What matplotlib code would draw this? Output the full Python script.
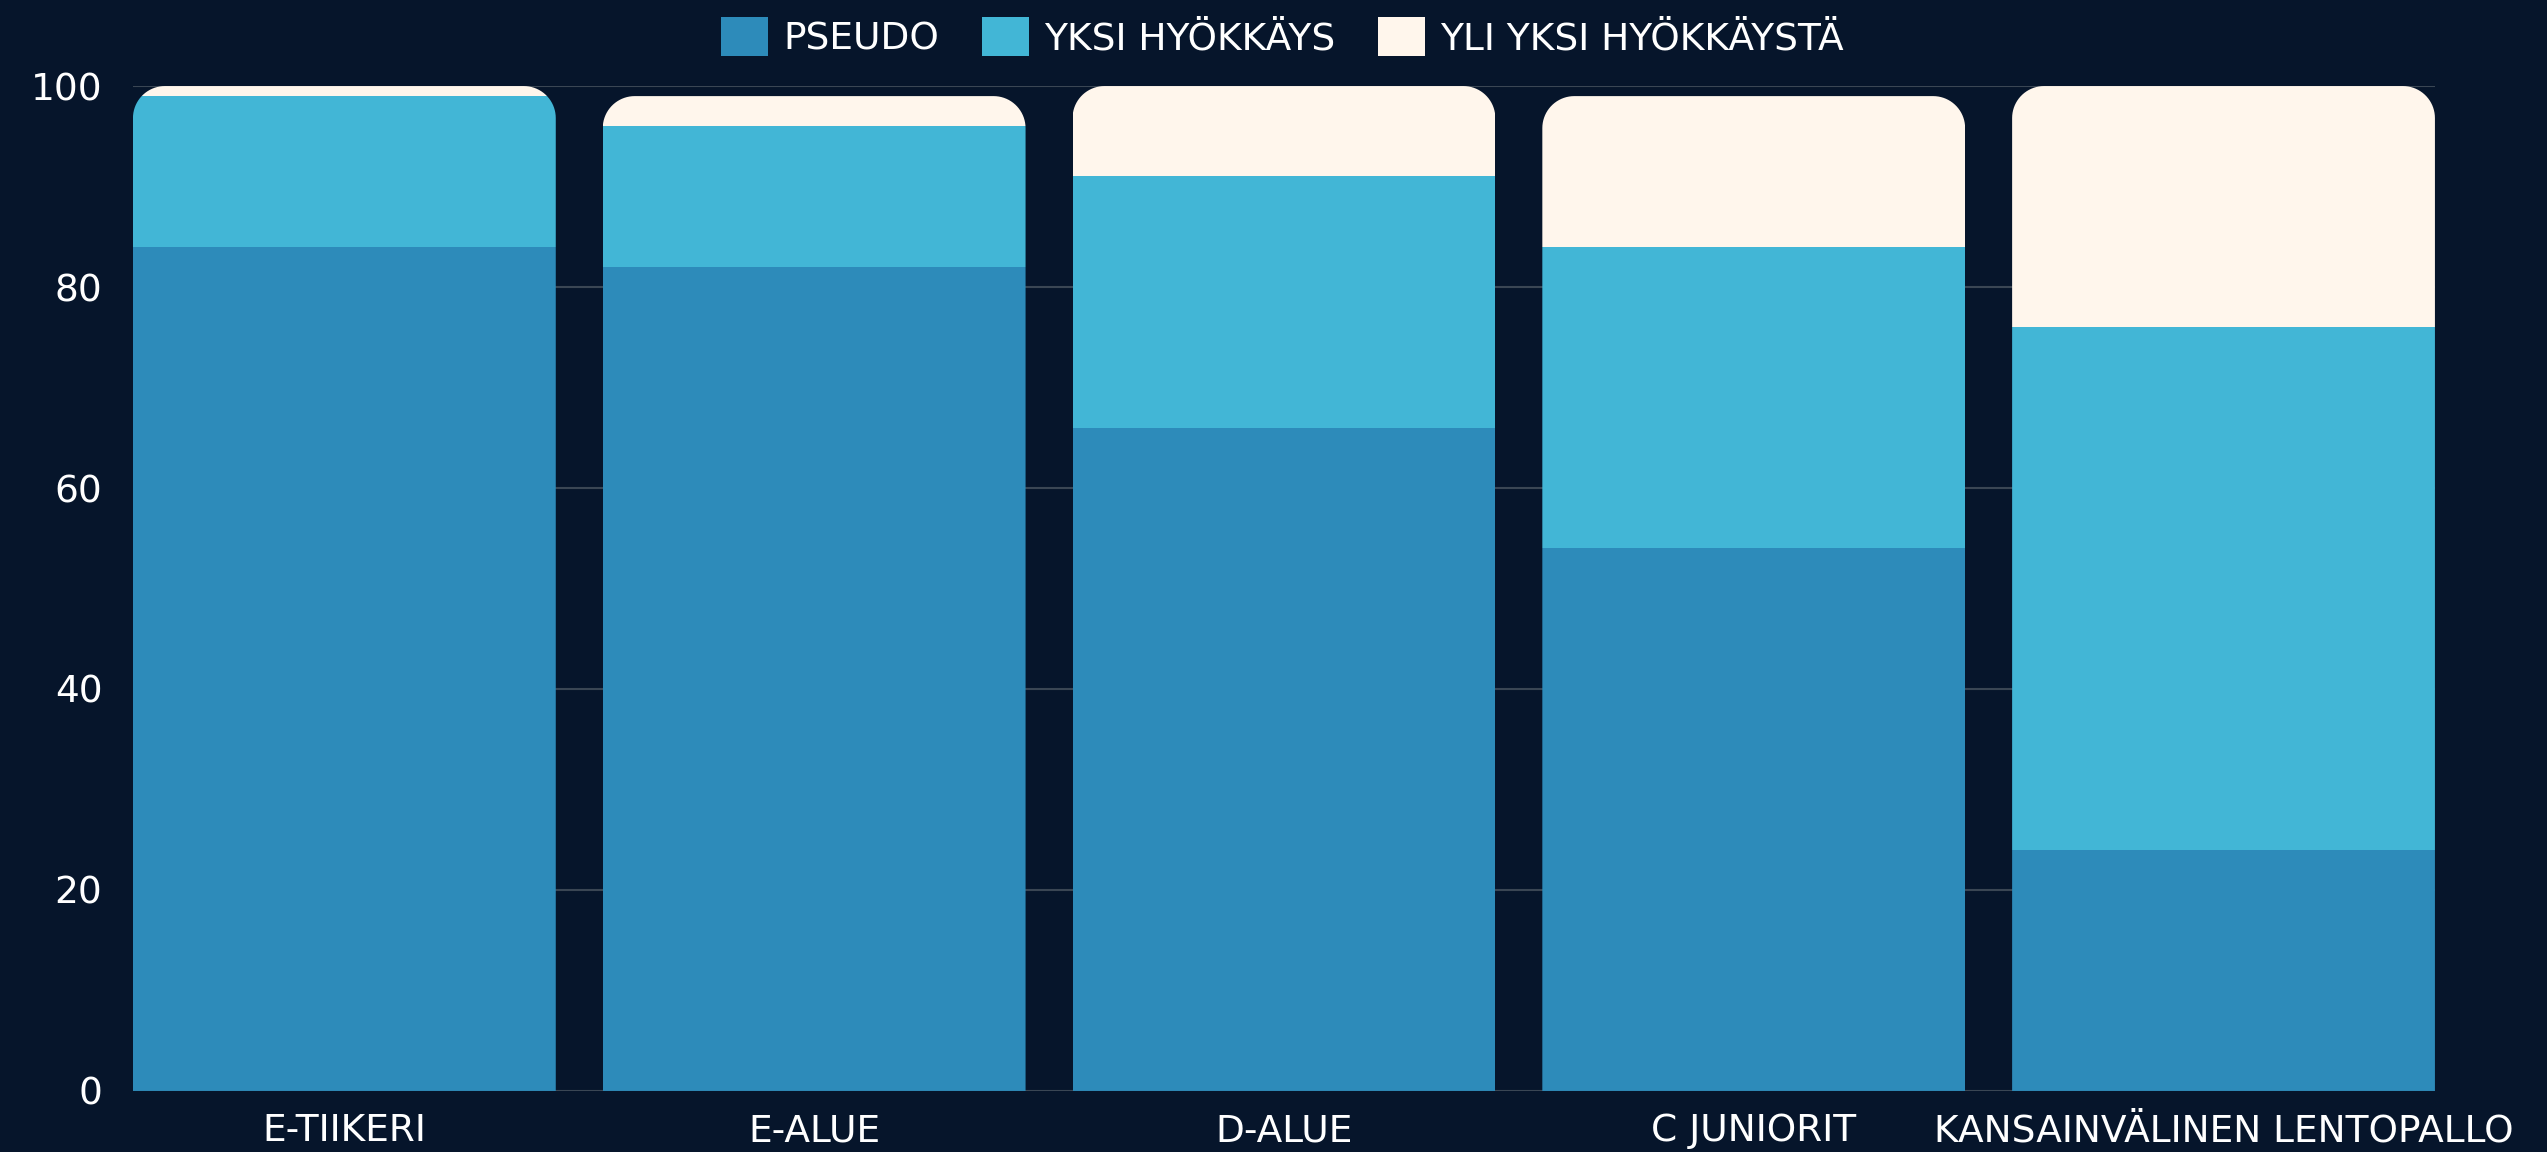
import numpy as np
import matplotlib
matplotlib.use('Agg')
import matplotlib.pyplot as plt
from matplotlib.path import Path
from matplotlib.patches import PathPatch, Patch

categories = ['E-TIIKERI', 'E-ALUE', 'D-ALUE', 'C JUNIORIT', 'KANSAINVÄLINEN LENTOPALLO']
pseudo = [84, 82, 66, 54, 24]
yksi = [15, 14, 25, 30, 52]
yli = [1, 3, 9, 15, 24]
series_names = ['PSEUDO', 'YKSI HYÖKKÄYS', 'YLI YKSI HYÖKKÄYSTÄ']
yticks = [0, 20, 40, 60, 80, 100]

bg = '#06152b'
colors = ['#2d8bba', '#42b6d6', '#fff6ec']
grid_col = '#3a4654'
bar_w = 0.9
radius_px = 32

plt.rcParams['font.family'] = ['DejaVu Sans']

fig, ax = plt.subplots(figsize=(25.47, 11.52), dpi=100)
fig.patch.set_facecolor(bg)
ax.set_facecolor(bg)
fig.subplots_adjust(left=0.0522, right=0.956, top=0.9253, bottom=0.053)

x = np.arange(len(categories))
ax.set_xlim(-bar_w / 2, len(categories) - 1 + bar_w / 2)
ax.set_ylim(0, 100)

# data units per pixel, for the rounded corners
bbox = ax.get_window_extent()
rx = radius_px * (ax.get_xlim()[1] - ax.get_xlim()[0]) / bbox.width
ry = radius_px * 100 / bbox.height


def rounded_top(x0, x1, top):
    t = np.linspace(0, np.pi / 2, 20)
    pts = [(x0, 0)]
    # left corner
    pts += list(zip(x0 + rx - rx * np.cos(t), top - ry + ry * np.sin(t)))
    # right corner
    pts += list(zip(x1 - rx + rx * np.sin(t), top - ry + ry * np.cos(t)))
    pts += [(x1, 0), (x0, 0)]
    return Path(pts, closed=True)


bottom = np.zeros(len(categories))
stacks = []
for vals, col, name in zip([pseudo, yksi, yli], colors, series_names):
    bars = ax.bar(x, vals, bar_w, bottom=bottom, color=col, label=name, zorder=2)
    stacks.append(bars)
    bottom = bottom + np.array(vals)

for i in range(len(categories)):
    clip = PathPatch(rounded_top(x[i] - bar_w / 2, x[i] + bar_w / 2, bottom[i]),
                     transform=ax.transData, facecolor='none', edgecolor='none')
    ax.add_patch(clip)
    for bars in stacks:
        bars[i].set_clip_path(clip)

ax.set_yticks(yticks)
ax.set_xticks(x)
ax.set_xticklabels(categories)
ax.grid(axis='y', color=grid_col, linewidth=1.5, zorder=1)
ax.set_axisbelow(True)
ax.tick_params(axis='both', length=0, colors='white', labelsize=27)
ax.tick_params(axis='y', pad=22)
ax.tick_params(axis='x', pad=16)
for s in ax.spines.values():
    s.set_visible(False)

handles = [Patch(facecolor=c, label=n) for c, n in zip(colors, series_names)]
fig.legend(handles=handles, loc='center', bbox_to_anchor=(0.5035, 0.968), ncol=3,
           frameon=False, fontsize=27, labelcolor='white', handlelength=1.25,
           handleheight=1.25, handletextpad=0.4, columnspacing=1.15)

fig.savefig('out.png', dpi=100, facecolor=bg)
